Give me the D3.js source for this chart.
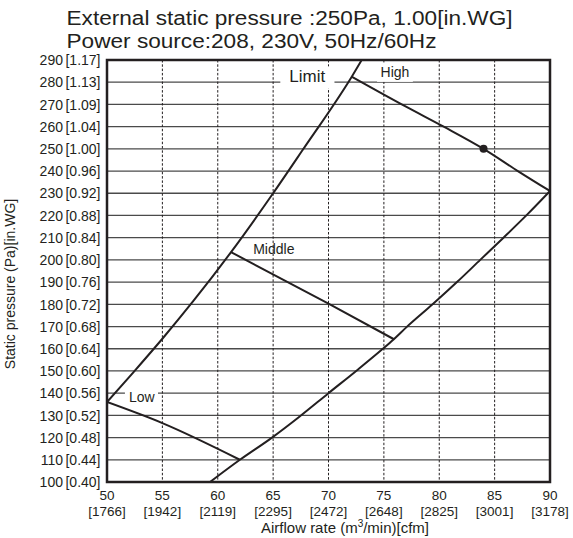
<!DOCTYPE html>
<html>
<head>
<meta charset="utf-8">
<script src="https://cdn.jsdelivr.net/npm/d3@7"></script>
<style>
  html, body { margin: 0; padding: 0; background: #fff; }
  svg { display: block; font-family: "Liberation Sans", Arial, Helvetica, sans-serif; }
</style>
</head>
<body>
<svg id="chart" width="573" height="538"></svg>
<script>
// ---- data ----
const titleLines = ["External static pressure :250Pa, 1.00[in.WG]", "Power source:208, 230V, 50Hz/60Hz"];
const xTicks = [50, 55, 60, 65, 70, 75, 80, 85, 90];
const xTickCfm = ["[1766]", "[1942]", "[2119]", "[2295]", "[2472]", "[2648]", "[2825]", "[3001]", "[3178]"];
const yTicks = [290, 280, 270, 260, 250, 240, 230, 220, 210, 200, 190, 180, 170, 160, 150, 140, 130, 120, 110, 100];
const yTickInWG = ["[1.17]", "[1.13]", "[1.09]", "[1.04]", "[1.00]", "[0.96]", "[0.92]", "[0.88]", "[0.84]", "[0.80]",
                   "[0.76]", "[0.72]", "[0.68]", "[0.64]", "[0.60]", "[0.56]", "[0.52]", "[0.48]", "[0.44]", "[0.40]"];
const xTitle = "Airflow rate (m";
const yTitle = "Static pressure (Pa)[in.WG]";

// curves: [airflow m3/min, static pressure Pa]
const limitCurve = [[50, 136], [52.4, 149.5], [55, 164.5], [57.8, 181.5], [61.2, 203.5], [65, 230], [67.6, 249], [72.1, 282.5], [73, 290]];
const systemCurve = [[59.3, 100], [62, 110], [64.9, 120], [67.4, 129.5], [70, 140], [72.5, 150], [74.8, 159.5], [75.9, 164.3],
                     [77, 169.5], [79.4, 180], [81.6, 190], [83.7, 200], [85.8, 210], [88, 220.7], [90, 231]];
const highLine = [[72.1, 282.5], [77, 269], [80.4, 260], [84, 250], [87.1, 240], [90, 231]];
const middleLine = [[61.2, 203.5], [70, 180.3], [75.9, 164.3]];
const lowLine = [[50, 136], [55, 126.5], [62, 110]];
const operatingPoint = [[84, 250]];

// ---- layout ----
const svg = d3.select("#chart");
const L = 107, R = 550, T = 60, B = 482;
const x = d3.scaleLinear().domain([50, 90]).range([L, R]);
const y = d3.scaleLinear().domain([100, 290]).range([B, T]);

// title (stretched horizontally like the reference's wide face)
const titleWidths = [446, 370];
svg.append("g").selectAll("text").data(titleLines).join("text")
  .attr("x", 66.5).attr("y", (d, i) => 25.2 + i * 23)
  .attr("font-size", 20).attr("fill", "#231f20")
  .attr("textLength", (d, i) => titleWidths[i]).attr("lengthAdjust", "spacingAndGlyphs")
  .text(d => d);

// horizontal grid (solid)
svg.append("g").selectAll("line").data(yTicks.filter(v => v > 100 && v < 290)).join("line")
  .attr("x1", L).attr("x2", R).attr("y1", d => y(d)).attr("y2", d => y(d))
  .attr("stroke", "#4a4a4a").attr("stroke-width", 1.3);

// vertical grid (dashed)
svg.append("g").selectAll("line").data(xTicks.filter(v => v > 50 && v < 90)).join("line")
  .attr("x1", d => x(d)).attr("x2", d => x(d)).attr("y1", T).attr("y2", B)
  .attr("stroke", "#231f20").attr("stroke-width", 1).attr("stroke-dasharray", "2.5,1.8");

// label annotations with white backgrounds
const annotations = [
  { text: "Limit", q: 66.46, p: 279.9, size: 17, padL: 9, padR: 9 },
  { text: "High", q: 74.7, p: 282.4, size: 14, padL: 3.5, padR: 3.5 },
  { text: "Middle", q: 63.2, p: 202.6, size: 14, padL: 0, padR: 0, noBox: true },
  { text: "Low", q: 51.98, p: 136.2, size: 14, padL: 4, padR: 2.5 }
];
const annG = svg.append("g");
annotations.forEach(a => {
  const t = annG.append("text").attr("x", x(a.q)).attr("y", y(a.p))
    .attr("font-size", a.size).attr("fill", "#231f20").text(a.text);
  if (!a.noBox) {
    const bb = t.node().getBBox();
    annG.insert("rect", "text").attr("x", bb.x - a.padL).attr("y", bb.y - 1)
      .attr("width", bb.width + a.padL + a.padR).attr("height", bb.height + 3).attr("fill", "#fff");
  }
});

// curves
const clip = svg.append("clipPath").attr("id", "plotclip");
clip.append("rect").attr("x", L).attr("y", T).attr("width", R - L).attr("height", B - T);
const line = d3.line().x(d => x(d[0])).y(d => y(d[1])).curve(d3.curveMonotoneX);
const curves = svg.append("g").attr("clip-path", "url(#plotclip)");
[limitCurve, systemCurve, highLine, middleLine, lowLine].forEach(c => {
  curves.append("path").datum(c).attr("d", line)
    .attr("fill", "none").attr("stroke", "#231f20").attr("stroke-width", 2);
});
svg.append("g").selectAll("circle").data(operatingPoint).join("circle")
  .attr("cx", d => x(d[0])).attr("cy", d => y(d[1])).attr("r", 4).attr("fill", "#231f20");

// frame
svg.append("rect").attr("x", L).attr("y", T).attr("width", R - L).attr("height", B - T)
  .attr("fill", "none").attr("stroke", "#231f20").attr("stroke-width", 2.5);

// y tick labels
const yl = svg.append("g").selectAll("text").data(yTicks).join("text")
  .attr("x", 100.5).attr("y", d => y(d) + 5.2)
  .attr("text-anchor", "end").attr("font-size", 14).attr("fill", "#231f20");
yl.append("tspan").text(d => d);
yl.append("tspan").attr("dx", 2.5).text((d, i) => yTickInWG[i]);

// x tick labels (two lines)
const xl = svg.append("g").selectAll("g").data(xTicks).join("g");
xl.append("text").attr("x", d => x(d)).attr("y", 500).attr("text-anchor", "middle")
  .attr("font-size", 13.5).attr("fill", "#231f20").text(d => d);
xl.append("text").attr("x", d => x(d)).attr("y", 515.5).attr("text-anchor", "middle")
  .attr("font-size", 13.5).attr("fill", "#231f20").text((d, i) => xTickCfm[i]);

// axis titles
const xt = svg.append("text").attr("x", 345).attr("y", 533).attr("text-anchor", "middle")
  .attr("font-size", 15).attr("fill", "#231f20");
xt.append("tspan").text(xTitle);
xt.append("tspan").attr("font-size", 10).attr("dy", -6).text("3");
xt.append("tspan").attr("dy", 6).text("/min)[cfm]");

svg.append("text").attr("transform", "translate(15,284) rotate(-90)")
  .attr("text-anchor", "middle").attr("font-size", 14).attr("fill", "#231f20").text(yTitle);
</script>
</body>
</html>
